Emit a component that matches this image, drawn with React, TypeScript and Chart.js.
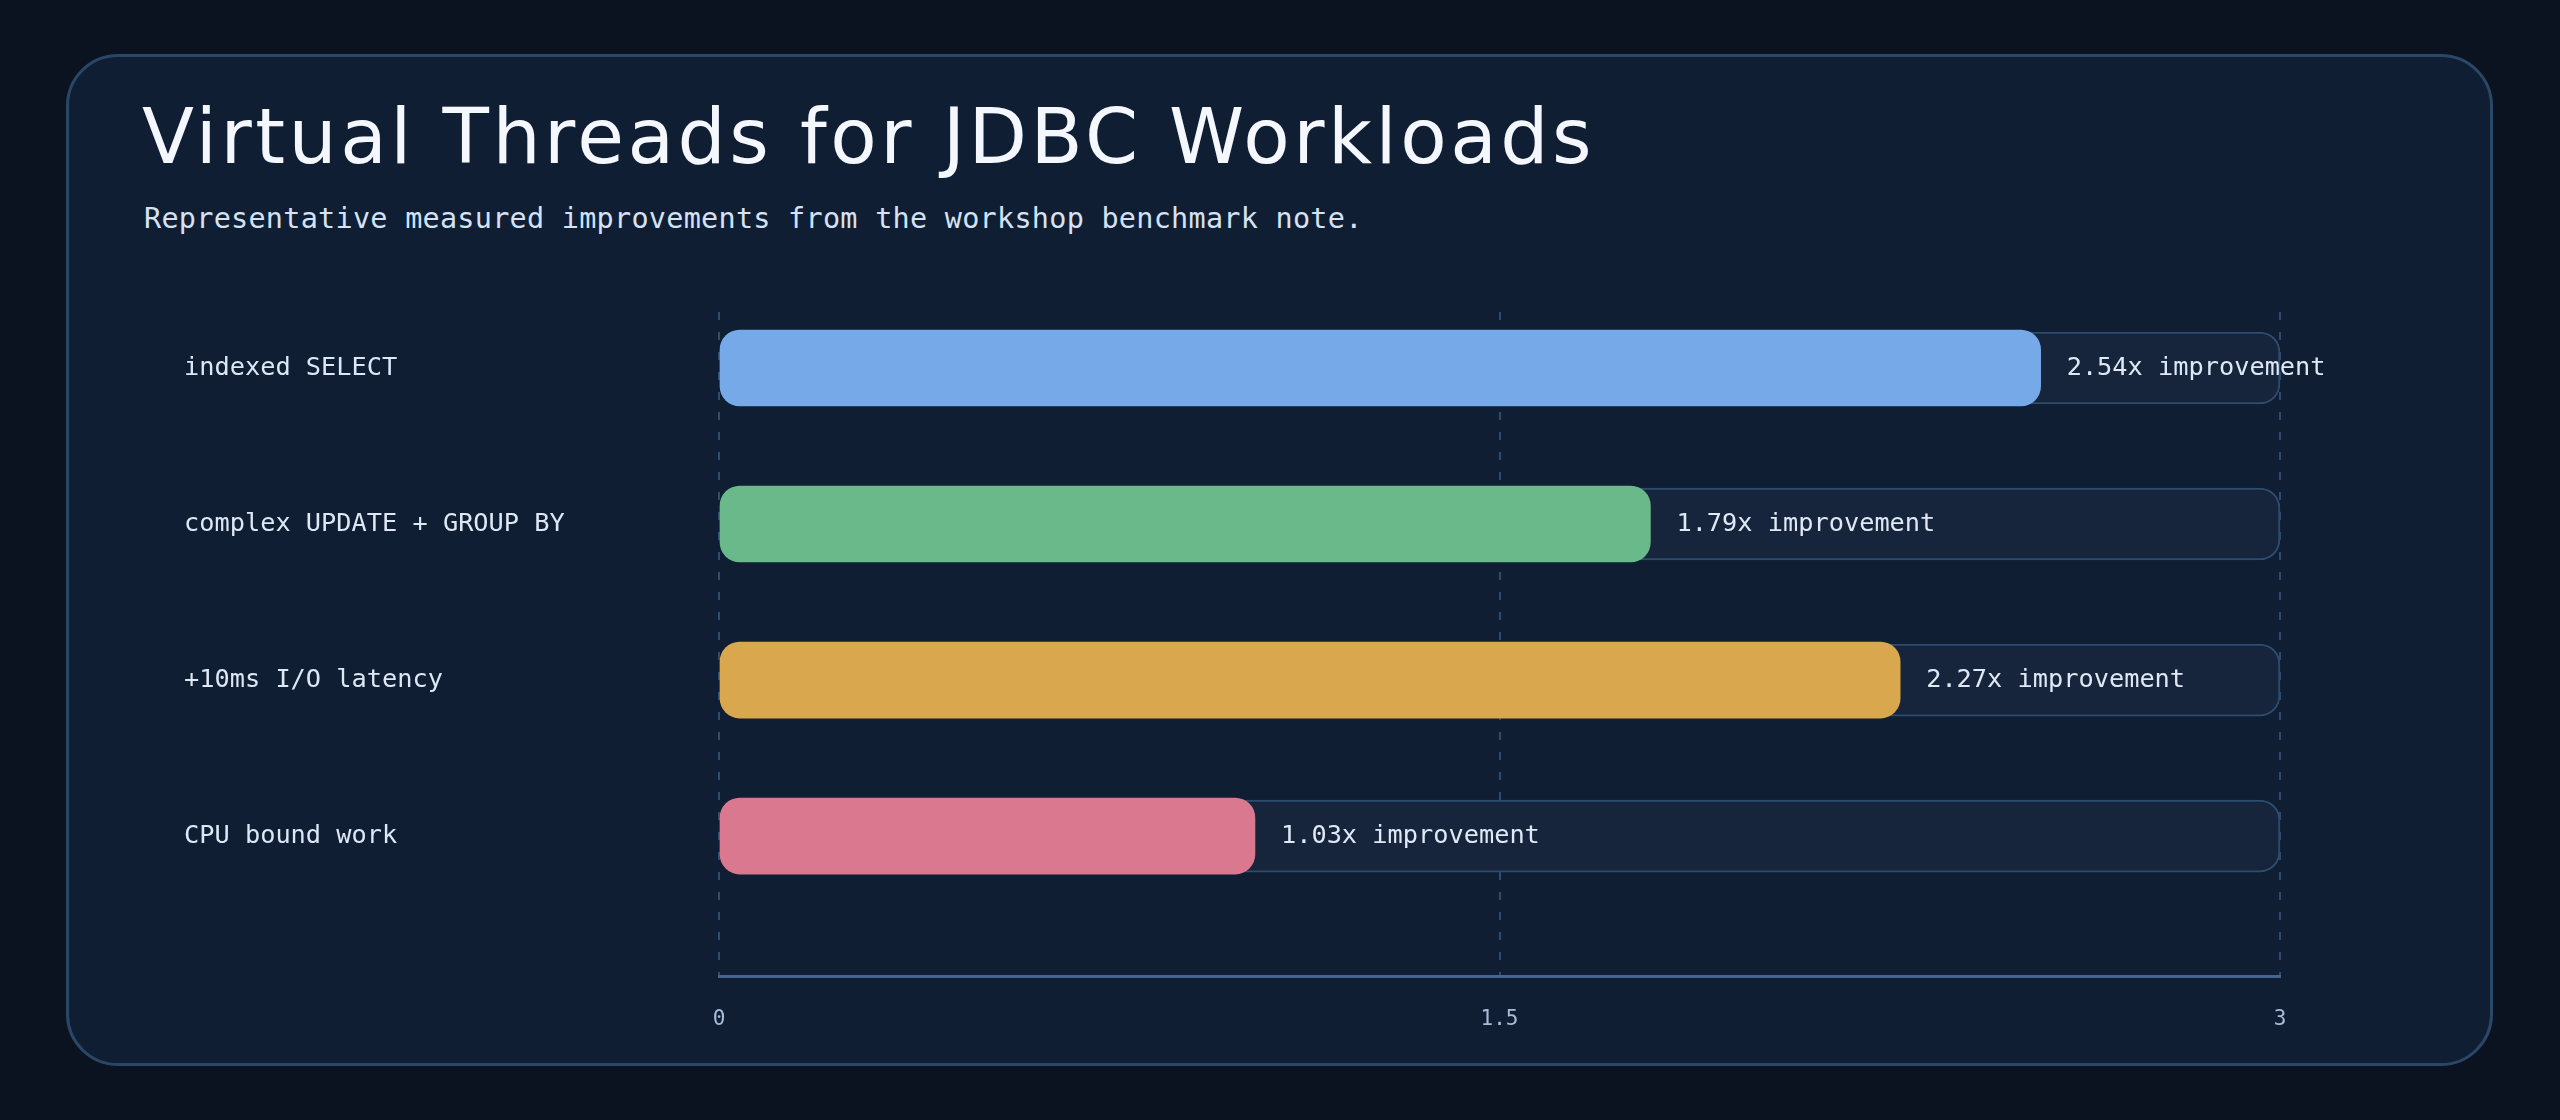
import { useEffect, useRef } from 'react';
import { Chart, registerables } from 'chart.js';

Chart.register(...registerables);

const titleText = 'Virtual Threads for JDBC Workloads';
const subtitleText = 'Representative measured improvements from the workshop benchmark note.';
const categories = ['indexed SELECT', 'complex UPDATE + GROUP BY', '+10ms I/O latency', 'CPU bound work'];
const improvements = [2.54, 1.79, 2.27, 1.03];
const trackMax = [3, 3, 3, 3];
const barColors = ['#76a9e8', '#69b98a', '#d9a84e', '#da7890'];
const xTicks = [0, 1.5, 3];
const valueSuffix = 'x improvement';

const MONO = '"DejaVu Sans Mono", "Liberation Mono", monospace';

const valueLabelPlugin = {
  id: 'valueLabels',
  afterDatasetsDraw(chart: any) {
    const meta = chart.getDatasetMeta(0);
    const ctx = chart.ctx;
    ctx.save();
    ctx.font = `25.3px ${MONO}`;
    ctx.fillStyle = '#dfe8f6';
    ctx.textAlign = 'left';
    ctx.textBaseline = 'middle';
    meta.data.forEach((el: any, i: number) => {
      ctx.fillText(`${improvements[i].toFixed(2)}${valueSuffix}`, el.x + 26, el.y);
    });
    ctx.restore();
  },
};

export default function App() {
  const canvasRef = useRef<HTMLCanvasElement | null>(null);

  useEffect(() => {
    document.body.style.margin = '0';
    document.body.style.background = '#0c1320';
    const canvas = canvasRef.current;
    if (!canvas) return;
    const chart = new Chart(canvas, {
      type: 'bar',
      data: {
        datasets: [
          {
            label: 'Improvement',
            data: improvements.map((v, i) => ({ x: v, y: i })),
            backgroundColor: barColors,
            borderWidth: 0,
            borderRadius: 20,
            borderSkipped: false,
            barThickness: 76,
            grouped: false,
            clip: false,
          } as any,
          {
            label: 'Scale',
            data: trackMax.map((v, i) => ({ x: v, y: i })),
            backgroundColor: '#16253b',
            borderColor: '#2d4c6f',
            borderWidth: 2,
            borderRadius: 20,
            borderSkipped: false,
            barThickness: 72,
            grouped: false,
            clip: false,
          } as any,
        ],
      },
      options: {
        indexAxis: 'y',
        responsive: false,
        maintainAspectRatio: false,
        animation: false,
        layout: { padding: { left: 184, right: 280, top: 310, bottom: 0 } },
        plugins: {
          legend: { display: false },
          tooltip: { enabled: false },
        },
        scales: {
          x: {
            type: 'linear',
            position: 'bottom',
            min: 0,
            max: 3,
            offset: false,
            afterBuildTicks: (s: any) => {
              s.ticks = xTicks.map((v) => ({ value: v }));
            },
            afterFit: (s: any) => {
              s.height = 144;
            },
            grid: { color: '#2e4c6f', lineWidth: 2, drawTicks: false, offset: false },
            border: { display: true, color: '#46658c', width: 3, dash: [8, 12], dashOffset: -2 },
            ticks: {
              color: '#a9bcd6',
              font: { family: MONO, size: 21 },
              padding: 31,
              callback: (v: any) => String(v),
            },
          },
          y: {
            type: 'linear',
            reverse: true,
            offset: false,
            min: -0.372,
            max: 3.897,
            afterBuildTicks: (s: any) => {
              s.ticks = categories.map((_, i) => ({ value: i }));
            },
            afterFit: (s: any) => {
              s.width = 535;
            },
            grid: { display: false, offset: false },
            border: { display: false },
            ticks: {
              crossAlign: 'far',
              color: '#dde7f5',
              font: { family: MONO, size: 25.3 },
              callback: (v: any) => categories[v] ?? '',
            },
          },
        },
      } as any,
      plugins: [valueLabelPlugin],
    });
    return () => chart.destroy();
  }, []);

  return (
    <div style={{ position: 'relative', width: 2560, height: 1120, overflow: 'hidden', background: '#0c1320' }}>
      <div
        style={{
          position: 'absolute',
          left: 66,
          top: 54,
          width: 2427,
          height: 1012,
          boxSizing: 'border-box',
          border: '3px solid #2a4767',
          borderRadius: 52,
          background: '#0f1e33',
        }}
      />
      <div
        style={{
          position: 'absolute',
          left: 142,
          top: 99,
          fontFamily: '"DejaVu Sans", sans-serif',
          fontSize: 76,
          fontWeight: 400,
          letterSpacing: 3.5,
          lineHeight: 1,
          color: '#f5f7ff',
          whiteSpace: 'nowrap',
        }}
      >
        {titleText}
      </div>
      <div
        style={{
          position: 'absolute',
          left: 144,
          top: 205,
          fontFamily: MONO,
          fontSize: 28.5,
          letterSpacing: 0.25,
          lineHeight: 1,
          color: '#d6e2f3',
          whiteSpace: 'nowrap',
        }}
      >
        {subtitleText}
      </div>
      <canvas
        ref={canvasRef}
        width={2560}
        height={1120}
        style={{ position: 'absolute', left: 0, top: 0, width: 2560, height: 1120 }}
      />
    </div>
  );
}
